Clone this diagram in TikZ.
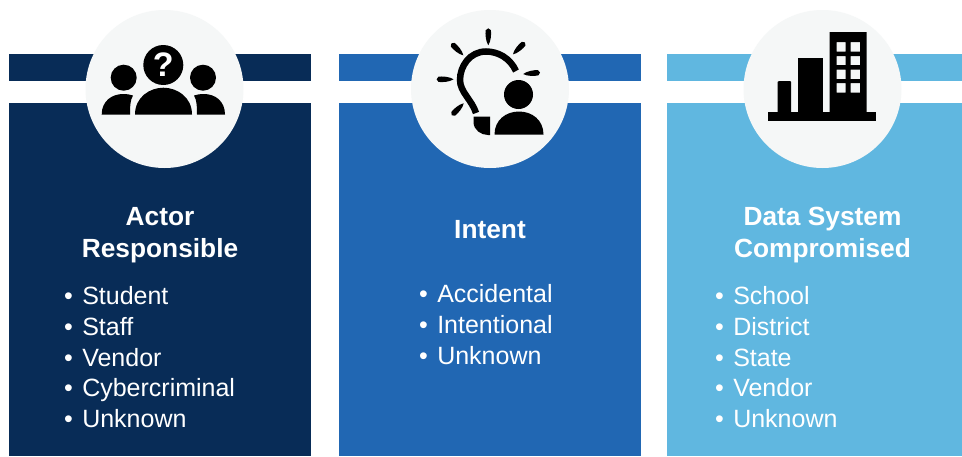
\documentclass[tikz,border=0pt]{standalone}
\usepackage{fontspec}
\setmainfont{Liberation Sans}
\definecolor{navy}{HTML}{082C57}
\definecolor{midblue}{HTML}{2167B3}
\definecolor{skyblue}{HTML}{60B7E0}
\definecolor{disc}{HTML}{F5F7F7}
\tikzset{
  panel/.style={draw=none,minimum width=302pt,minimum height=402pt,anchor=north west,inner sep=0pt},
  band/.style={fill=white,draw=none,minimum width=302pt,minimum height=22pt,anchor=north west,inner sep=0pt},
  badge/.style={circle,fill=disc,draw=none,minimum size=158pt,inner sep=0pt},
  heading/.style={text=white,font=\fontsize{26.3}{31.5}\selectfont\bfseries,align=center,inner sep=0pt,anchor=center},
  listtext/.style={text=white,font=\fontsize{25}{30.7}\selectfont,align=left,inner sep=0pt,anchor=north west}
}
\newcommand{\rayshape}[3]{% centre x,y ; angle
  \fill[shift={(#1,#2)},rotate=#3] (-8.5,0) .. controls (-5,-2.6) and (3,-3.2) .. (6.5,-2.6) .. controls (9,-1.6) and (9,1.6) .. (6.5,2.6) .. controls (3,3.2) and (-5,2.6) .. (-8.5,0) -- cycle;}
\begin{document}
\begin{tikzpicture}[x=1pt,y=-1pt]
\useasboundingbox (0,0) rectangle (962,456);
\fill[white] (0,0) rectangle (962,456);
% panels
\begin{scope}
\clip (0,0) rectangle (962,456);
\node[panel,fill=navy] (p1) at (9,54) {};
\node[panel,fill=midblue] (p2) at (339,54) {};
\node[panel,fill=skyblue] (p3) at (667,54) {};
\node[band] (b1) at (9,81) {};
\node[band] (b2) at (339,81) {};
\node[band] (b3) at (667,81) {};
\end{scope}
\node[badge] (c1) at (164.5,89) {};
\node[badge] (c2) at (490,89) {};
\node[badge] (c3) at (822.5,89) {};
% icon 1
\fill (163.3,65) circle (20);
\fill (123.7,77.7) circle (13);
\fill (203,77.7) circle (13);
\fill (135,114.5) .. controls (135,97) and (150,87.7) .. (163.3,87.7) .. controls (177,87.7) and (192,97) .. (192,114.5) -- cycle;
\fill (101.7,114.5) .. controls (101.7,101) and (112,94) .. (123,94) .. controls (127,94) and (130,94.5) .. (133,95.5) .. controls (130,100) and (130,108) .. (130,114.5) -- cycle;
\fill (225,114.5) .. controls (225,101) and (215,94) .. (204,94) .. controls (200,94) and (197,94.5) .. (194,95.5) .. controls (197,100) and (197,108) .. (197,114.5) -- cycle;
\node[text=white,font=\fontsize{34}{34}\selectfont\bfseries,inner sep=0pt] (q) at (163.3,64.5) {?};
% icon 2
\draw[line width=6.5pt] (516,71) .. controls (510,58) and (498,51.5) .. (486,51.5) .. controls (470,51.5) and (460,66) .. (460,80) .. controls (460,92) and (472,100) .. (476,113);
\rayshape{488.3}{36.7}{90}
\rayshape{457.3}{49.3}{135}
\rayshape{519}{48.3}{45}
\rayshape{531.7}{73.3}{5}
\rayshape{445}{79.3}{180}
\rayshape{457.7}{109.3}{225}
\fill (473.5,116.5) -- (490,116.5) -- (490,135) -- (488,135) .. controls (481,135) and (473.5,130) .. (473.5,122) -- cycle;
\fill (518.5,94.5) circle (14.5);
\fill (494.5,134.5) .. controls (494.5,120) and (506,111.5) .. (519,111.5) .. controls (532,111.5) and (543.5,120) .. (543.5,134.5) -- cycle;
% icon 3
\fill (768,112) rectangle (875.5,120.5);
\fill (777.5,112.5) -- (777.5,82) -- (779,81) -- (790,81) -- (791,82) -- (791,112.5) -- cycle;
\fill (797.5,57.5) rectangle (823,113);
\fill[even odd rule] (829.5,32) rectangle (866.5,113)
  (836.5,42) rectangle (845.5,51.5) (850.5,42) rectangle (860,51.5)
  (836.5,56) rectangle (845.5,65) (850.5,56) rectangle (860,65)
  (836.5,69.5) rectangle (845.5,79) (850.5,69.5) rectangle (860,79)
  (836.5,83) rectangle (845.5,92.5) (850.5,83) rectangle (860,92.5);
% text
\node[heading] (h1) at (160,235) {Actor\\Responsible};
\node[heading] (h2) at (490,230) {Intent};
\node[heading] (h3) at (822.5,235) {Data System\\Compromised};
\node[listtext] (l1) at (64,286.5) {•\hspace{9.3pt}Student\\•\hspace{9.3pt}Staff\\•\hspace{9.3pt}Vendor\\•\hspace{9.3pt}Cybercriminal\\•\hspace{9.3pt}Unknown};
\node[listtext] (l2) at (419,284.5) {•\hspace{9.3pt}Accidental\\•\hspace{9.3pt}Intentional\\•\hspace{9.3pt}Unknown};
\node[listtext] (l3) at (715,286.5) {•\hspace{9.3pt}School\\•\hspace{9.3pt}District\\•\hspace{9.3pt}State\\•\hspace{9.3pt}Vendor\\•\hspace{9.3pt}Unknown};
\end{tikzpicture}
\end{document}
